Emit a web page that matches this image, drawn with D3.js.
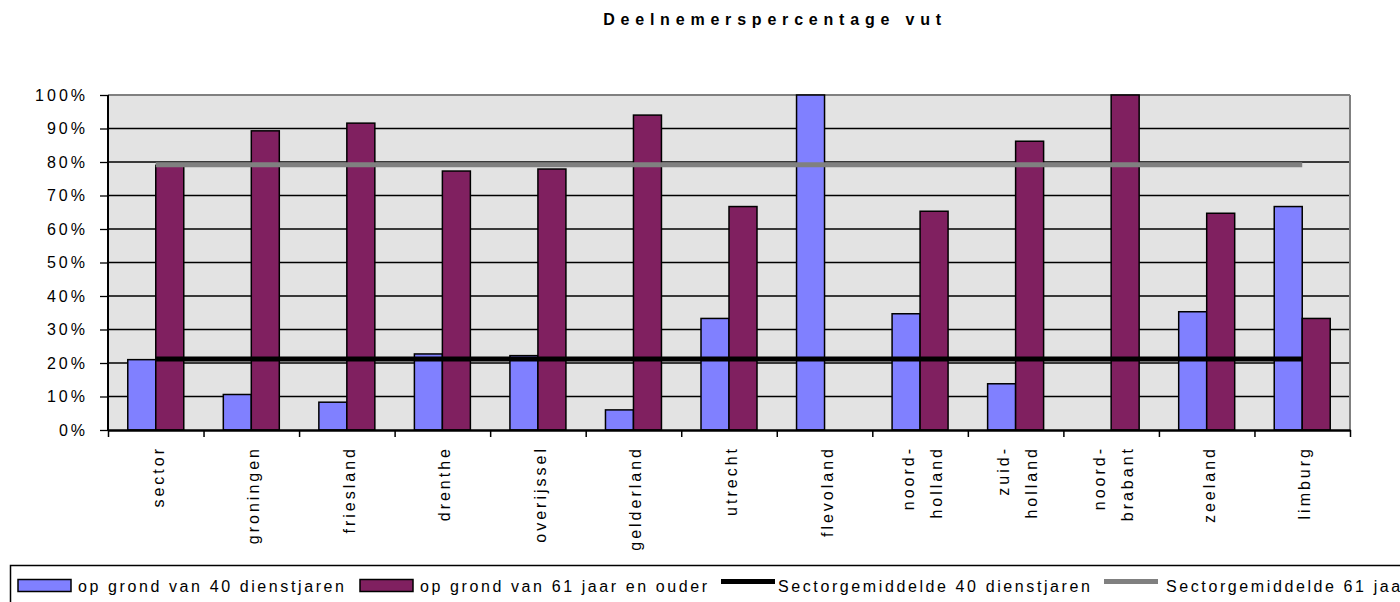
<!DOCTYPE html>
<html>
<head>
<meta charset="utf-8">
<script src="https://cdn.jsdelivr.net/npm/d3@7"></script>
<style>
  body { margin: 0; background: #fff; }
  text { font-family: "Liberation Sans", Arial, sans-serif; fill: #000; }
</style>
</head>
<body>
<svg id="chart" width="1400" height="602"></svg>
<script>
// Deelnemerspercentage vut: grouped bars per provincie + two sector averages

// Data (percentages)
var categories = ["sector", "groningen", "friesland", "drenthe", "overijssel", "gelderland",
  "utrecht", "flevoland", "noord-\nholland", "zuid-\nholland", "noord-\nbrabant", "zeeland", "limburg"];
var dienstjaren40 = [21.0, 10.6, 8.3, 22.7, 22.2, 6.0, 33.3, 100, 34.7, 13.8, 0, 35.3, 66.7];
var jaar61 = [79.0, 89.3, 91.6, 77.3, 77.9, 94.0, 66.7, 0, 65.3, 86.2, 100, 64.7, 33.3];
var sectorAvg40 = 21.2, sectorAvg61 = 79.2;
var yTicks = [0, 10, 20, 30, 40, 50, 60, 70, 80, 90, 100];
var legendNames = ["op grond van 40 dienstjaren", "op grond van 61 jaar en ouder",
  "Sectorgemiddelde 40 dienstjaren", "Sectorgemiddelde 61 jaar en ouder"];

// Globals
var Left = 108, Right = 1350, Top = 95, Bottom = 430;
var Blue = "#8080ff", Maroon = "#802060", Grey = "#808080";
var FontSize = "16px", Spacing = "3px";

var svg = d3.select("#chart");
var n = categories.length;

var x0 = d3.scaleBand().domain(d3.range(n)).range([Left, Right]);
var xEdge = d3.scaleLinear().domain([0, n]).range([Left, Right]);
var y = d3.scaleLinear().domain([0, 100]).range([Bottom, Top]);
var barW = x0.bandwidth() * 0.293;
var x1 = d3.scaleBand().domain([0, 1]).range([-barW, barW]);

function center(i) { return x0(i) + x0.bandwidth() / 2; }

// title
svg.append("text")
    .attr("x", 775).attr("y", 25)
    .attr("text-anchor", "middle")
    .style("font-size", FontSize).style("font-weight", "bold")
    .style("letter-spacing", "5.8px")
    .text("Deelnemerspercentage vut");

// plot background
svg.append("rect")
    .attr("x", Left).attr("y", Top)
    .attr("width", Right - Left).attr("height", Bottom - Top)
    .style("fill", "#e3e3e3");

// gridlines (top one is the grey border)
svg.append("g").selectAll("line")
  .data(yTicks.filter(function(d) { return d > 0; }))
  .enter().append("line")
    .attr("x1", Left).attr("x2", Right)
    .attr("y1", function(d) { return y(d); })
    .attr("y2", function(d) { return y(d); })
    .style("stroke", function(d) { return d == 100 ? Grey : "#000"; })
    .style("stroke-width", function(d) { return d == 100 ? 2 : 1.3; });

svg.append("line")
    .attr("x1", Right).attr("x2", Right).attr("y1", Top).attr("y2", Bottom)
    .style("stroke", Grey).style("stroke-width", 2);

// bars
var groups = svg.append("g").selectAll("g")
  .data(categories)
  .enter().append("g")
    .attr("transform", function(d, i) { return "translate(" + center(i) + ",0)"; });

groups.selectAll("rect")
  .data(function(d, i) {
      return [{s: 0, v: dienstjaren40[i]}, {s: 1, v: jaar61[i]}].filter(function(b) { return b.v > 0; });
  })
  .enter().append("rect")
    .attr("x", function(d) { return x1(d.s); })
    .attr("y", function(d) { return y(d.v); })
    .attr("width", x1.bandwidth())
    .attr("height", function(d) { return y(0) - y(d.v); })
    .style("fill", function(d) { return d.s == 0 ? Blue : Maroon; })
    .style("stroke", "#000").style("stroke-width", 1.5);

// sector averages, drawn over the bars
var avgLine = d3.line()
    .x(function(d) { return center(d[0]); })
    .y(function(d) { return y(d[1]); });

svg.append("path")
    .attr("d", avgLine([[0, sectorAvg61], [n - 1, sectorAvg61]]))
    .style("stroke", Grey).style("stroke-width", 5).style("fill", "none");
svg.append("path")
    .attr("d", avgLine([[0, sectorAvg40], [n - 1, sectorAvg40]]))
    .style("stroke", "#000").style("stroke-width", 5).style("fill", "none");

// y axis
var yAxis = svg.append("g")
    .attr("transform", "translate(" + Left + ",0)")
    .call(d3.axisLeft(y).tickValues(yTicks)
        .tickFormat(function(d) { return d + "%"; })
        .tickSize(8).tickPadding(12));
yAxis.select(".domain").remove();
yAxis.selectAll("line").style("stroke", "#000").style("stroke-width", 1.3);
yAxis.selectAll("text")
    .style("font-size", FontSize).style("letter-spacing", Spacing)
    .style("font-family", null);

svg.append("line")
    .attr("x1", Left).attr("x2", Left).attr("y1", Top).attr("y2", Bottom + 1)
    .style("stroke", "#000").style("stroke-width", 2);

// x axis: ticks sit between categories
var xAxis = svg.append("g")
    .attr("transform", "translate(0," + Bottom + ")")
    .call(d3.axisBottom(xEdge).tickValues(d3.range(n + 1))
        .tickFormat("").tickSizeInner(7).tickSizeOuter(0));
xAxis.select(".domain").style("stroke", "#000").style("stroke-width", 2.5);
xAxis.selectAll(".tick line").style("stroke", "#000").style("stroke-width", 1.5);

// category labels, rotated and reading upwards
var labels = svg.append("g").selectAll("text")
  .data(categories)
  .enter().append("text")
    .attr("transform", function(d, i) {
        var lines = d.split("\n").length;
        return "translate(" + (center(i) + 8 - (lines - 1) * 14.5) + ",446) rotate(-90)";
    })
    .attr("text-anchor", "end")
    .style("font-size", FontSize).style("letter-spacing", Spacing);

labels.selectAll("tspan")
  .data(function(d) { return d.split("\n"); })
  .enter().append("tspan")
    .attr("x", 0)
    .attr("dy", function(d, i) { return i == 0 ? 0 : 28; })
    .text(function(d) { return d; });

// legend (last entry runs off the page, as in the original)
var keyX = [18, 360, 721, 1104];
var textX = [78, 420, 778, 1166];
var legend = svg.append("g");
legend.append("rect")
    .attr("x", 10.5).attr("y", 565.5)
    .attr("width", 1420).attr("height", 60)
    .style("fill", "#fff").style("stroke", "#000").style("stroke-width", 1.5);

var items = legend.selectAll("g.item")
  .data(legendNames)
  .enter().append("g")
    .attr("class", "item");

items.filter(function(d, i) { return i < 2; })
  .append("rect")
    .attr("x", function(d, i) { return keyX[i]; }).attr("y", 579.5)
    .attr("width", 53).attr("height", 12)
    .style("fill", function(d, i) { return i == 0 ? Blue : Maroon; })
    .style("stroke", "#000").style("stroke-width", 1.5);

items.filter(function(d, i) { return i >= 2; })
  .append("line")
    .attr("x1", function(d, i) { return keyX[i + 2]; })
    .attr("x2", function(d, i) { return keyX[i + 2] + 54; })
    .attr("y1", 581.5).attr("y2", 581.5)
    .style("stroke", function(d, i) { return i == 0 ? "#000" : Grey; })
    .style("stroke-width", 5);

items.append("text")
    .attr("x", function(d, i) { return textX[i]; }).attr("y", 592)
    .style("font-size", FontSize).style("letter-spacing", "2.6px")
    .text(function(d) { return d; });
</script>
</body>
</html>
